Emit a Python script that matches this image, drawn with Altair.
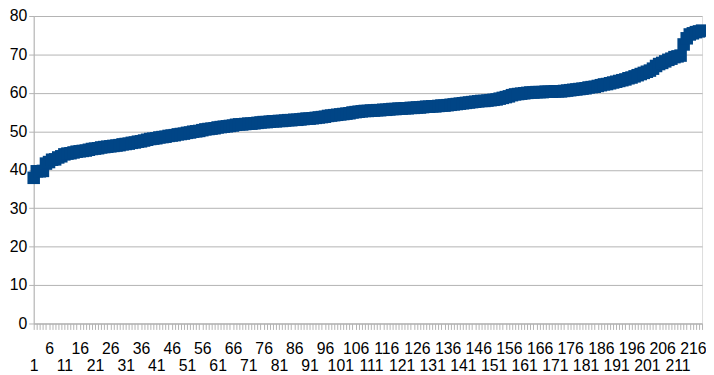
import altair as alt
import pandas as pd

# Sorted values (categories 1..219)
vals_01_30 = [37.9, 39.6, 39.6, 39.7, 41.6, 42.0, 42.6, 42.7, 43.2, 43.5,
              44.0, 44.2, 44.3, 44.5, 44.7, 44.8, 44.9, 45.0, 45.2, 45.4,
              45.5, 45.6, 45.8, 45.9, 46.0, 46.1, 46.2, 46.3, 46.4, 46.6]
vals_31_67 = [46.7, 46.8, 47.0, 47.1, 47.3, 47.4, 47.6, 47.8, 48.0,
              48.1, 48.2, 48.4, 48.5, 48.6, 48.8, 48.9, 49.0, 49.2, 49.3,
              49.4, 49.6, 49.7, 49.9, 50.0, 50.1, 50.3, 50.5, 50.6,
              50.7, 50.8, 51.0, 51.1, 51.2, 51.3, 51.4, 51.5, 51.7]
vals_68_108 = [51.8, 51.8, 51.9, 52.0, 52.0, 52.1, 52.2, 52.3,
               52.4, 52.4, 52.5, 52.6, 52.6, 52.7, 52.7, 52.8, 52.9, 52.9, 53.0,
               53.0, 53.1, 53.2, 53.3, 53.3, 53.4, 53.5, 53.6, 53.7, 53.8, 54.0,
               54.1, 54.2, 54.3, 54.4, 54.5, 54.6, 54.7, 54.9, 55.0, 55.1, 55.2]
vals_109_152 = [55.3, 55.3, 55.4, 55.4, 55.5, 55.5, 55.6, 55.6, 55.7, 55.8,
                55.8, 55.9, 55.9, 56.0, 56.0, 56.1, 56.1, 56.2, 56.2, 56.3, 56.4,
                56.4, 56.5, 56.5, 56.6, 56.7, 56.7, 56.8, 56.9, 57.0, 57.1, 57.2, 57.3,
                57.4, 57.5, 57.6, 57.7, 57.8, 57.9, 57.9, 58.0, 58.1, 58.2, 58.3]
vals_153_195 = [58.5, 58.7, 58.9, 59.1, 59.4, 59.6,
                59.7, 59.8, 59.9, 60.0, 60.1,
                60.1, 60.2, 60.2, 60.2, 60.3, 60.3, 60.3, 60.4, 60.4, 60.4, 60.5,
                60.6, 60.7, 60.8, 60.9, 61.0, 61.1, 61.2, 61.4, 61.5, 61.6, 61.8,
                62.0, 62.2, 62.3, 62.5, 62.7, 62.9, 63.1, 63.3, 63.5, 63.8]
vals_196_219 = [64.0, 64.3, 64.6, 64.9, 65.2, 65.5, 65.8, 66.3, 67.0, 67.5,
                67.8, 68.2, 68.6, 68.9, 69.3, 69.5, 69.7,
                72.6, 74.2, 75.2, 75.5, 75.8, 76.0, 76.2]

values = vals_01_30 + vals_31_67 + vals_68_108 + vals_109_152 + vals_153_195 + vals_196_219
n = len(values)
idx = list(range(1, n + 1))
df = pd.DataFrame({"idx": idx, "value": values})

upper_labels = list(range(6, n + 1, 10))   # 6, 16, ... 216
lower_labels = list(range(1, n + 1, 10))   # 1, 11, ... 211
y_ticks = list(range(0, 81, 10))

GRAY = "#b3b3b3"
FONT = "Liberation Sans"

xscale = alt.Scale(domain=[1, n], nice=False, zero=False)
yscale = alt.Scale(domain=[0, 80], nice=False, zero=True)

yaxis = alt.Axis(values=y_ticks, title=None, grid=True, gridColor=GRAY,
                 domainColor=GRAY, tickColor=GRAY, tickSize=5, labelPadding=2,
                 labelFont=FONT, labelFontSize=16, labelColor="black", format="d")

base = alt.Chart(df)

points = base.mark_square(size=160, color="#004586", opacity=1, filled=True).encode(
    x=alt.X("idx:Q", scale=xscale,
            axis=alt.Axis(orient="bottom", values=idx, labels=False, ticks=True,
                          tickSize=6, tickColor=GRAY, domain=True, domainColor=GRAY,
                          grid=False, title=None, offset=0)),
    y=alt.Y("value:Q", scale=yscale, axis=yaxis),
)

upper = base.mark_point(opacity=0).encode(
    x=alt.X("idx:Q", scale=xscale,
            axis=alt.Axis(orient="bottom", values=upper_labels, ticks=False, domain=False,
                          grid=False, title=None, labelPadding=17, labelFlush=False,
                          labelOverlap=False, labelBound=False, offset=0, format="d",
                          labelFont=FONT, labelFontSize=16, labelColor="black")),
    y=alt.value(0),
)

lower = base.mark_point(opacity=0).encode(
    x=alt.X("idx:Q", scale=xscale,
            axis=alt.Axis(orient="bottom", values=lower_labels, ticks=False, domain=False,
                          grid=False, title=None, labelPadding=35, labelFlush=False,
                          labelOverlap=False, labelBound=False, offset=0, format="d",
                          labelFont=FONT, labelFontSize=16, labelColor="black")),
    y=alt.value(0),
)

chart = alt.layer(points, upper, lower).resolve_axis(x="independent").properties(
    width=676,
    height=311,
    autosize=alt.AutoSizeParams(type="none"),
    padding={"left": 26, "top": 6, "right": 4, "bottom": 50},
).configure_view(stroke=GRAY).configure(background="white")

chart.save("out.html", embed_options={"renderer": "svg", "actions": False})
